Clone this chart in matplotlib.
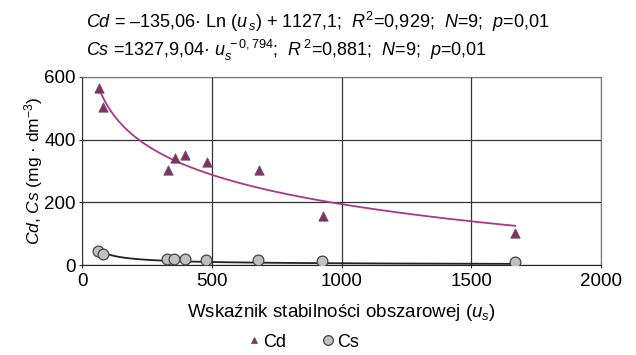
import numpy as np
import matplotlib
matplotlib.use("Agg")
import matplotlib.pyplot as plt
from matplotlib.lines import Line2D

plt.rcParams["font.family"] = ["Liberation Sans", "DejaVu Sans"]
plt.rcParams["mathtext.fontset"] = "custom"
plt.rcParams["mathtext.rm"] = "Liberation Sans"
plt.rcParams["mathtext.it"] = "Liberation Sans:italic"
plt.rcParams["mathtext.bf"] = "Liberation Sans:bold"

# dane
us_cd = [66, 81, 331, 358, 397, 482, 682, 929, 1669]
cd = [565, 504, 303, 341, 351, 329, 303, 156, 102]
us_cs = [62, 81, 327, 355, 397, 478, 678, 925, 1669]
cs = [45, 35, 19, 19, 18, 16, 15, 12, 9]

# parametry linii trendu (z równań nad wykresem)
cd_a, cd_b = -135.06, 1127.1
cs_a, cs_b = 1327.9, -0.794

fig = plt.figure(figsize=(6.36, 3.55), dpi=100)
ax = fig.add_axes([0.129, 0.2535, 0.816, 0.53])

xx = np.linspace(min(us_cd), max(us_cd), 300)
ax.plot(xx, cd_a * np.log(xx) + cd_b, color="#a8388c", lw=1.3, zorder=3)
xs = np.linspace(min(us_cs), max(us_cs), 300)
ax.plot(xs, cs_a * xs ** cs_b, color="#222222", lw=1.3, zorder=3)

ax.scatter(us_cd, cd, marker="^", s=45, facecolor="#8a2b6e", edgecolor="#5a5a5a",
           linewidth=0.6, zorder=4)
ax.scatter(us_cs, cs, marker="o", s=60, facecolor="#c0c0c0", edgecolor="#444444",
           linewidth=0.9, zorder=4)

ax.set_xlim(0, 2000)
ax.set_ylim(0, 600)
ax.set_xticks([0, 500, 1000, 1500, 2000])
ax.set_yticks([0, 200, 400, 600])
ax.grid(True, color="#333333", lw=0.9)
ax.tick_params(direction="inout", length=5, labelsize=13.5, color="#333333", pad=2)
ax.tick_params(axis="x", pad=3)
for s in ["top", "right"]:
    ax.spines[s].set_color("#777777")
ax.spines["left"].set_color("#333333")
ax.spines["bottom"].set_color("#222222")

ax.set_ylabel(r"$\it{Cd}$, $\it{Cs}$ (mg · dm$^{-3}$)", fontsize=12.5, labelpad=-0.5)
ax.set_xlabel(r"Wskaźnik stabilności obszarowej ($\it{u}_{s}$)", fontsize=13.5, labelpad=9)

fig.text(0.135, 0.938,
         r"$\it{Cd}$ = –135,06· Ln ($\it{u}_{\,s}$) + 1127,1;  $\it{R}^{2}$=0,929;  $\it{N}$=9;  $\it{p}$=0,01",
         fontsize=13, ha="left", va="center")
fig.text(0.135, 0.859,
         r"$\it{Cs}$ =1327,9,04· $\it{u}_{s}^{\,-0,794}$;  $\it{R}^{\,2}$=0,881;  $\it{N}$=9;  $\it{p}$=0,01",
         fontsize=13, ha="left", va="center")

handles = [
    Line2D([], [], marker="^", ls="none", markersize=5, markerfacecolor="#8a2b6e",
           markeredgecolor="#5a5a5a", markeredgewidth=0.6),
    Line2D([], [], marker="o", ls="none", markersize=7, markerfacecolor="#c0c0c0",
           markeredgecolor="#444444", markeredgewidth=0.9),
]
fig.legend(handles, ["Cd", "Cs"], loc="center", bbox_to_anchor=(0.475, 0.036),
           ncol=2, frameon=False, fontsize=13, handletextpad=0.0,
           columnspacing=1.8, handlelength=1.0, borderpad=0.2)

fig.savefig("out.png", dpi=100)
